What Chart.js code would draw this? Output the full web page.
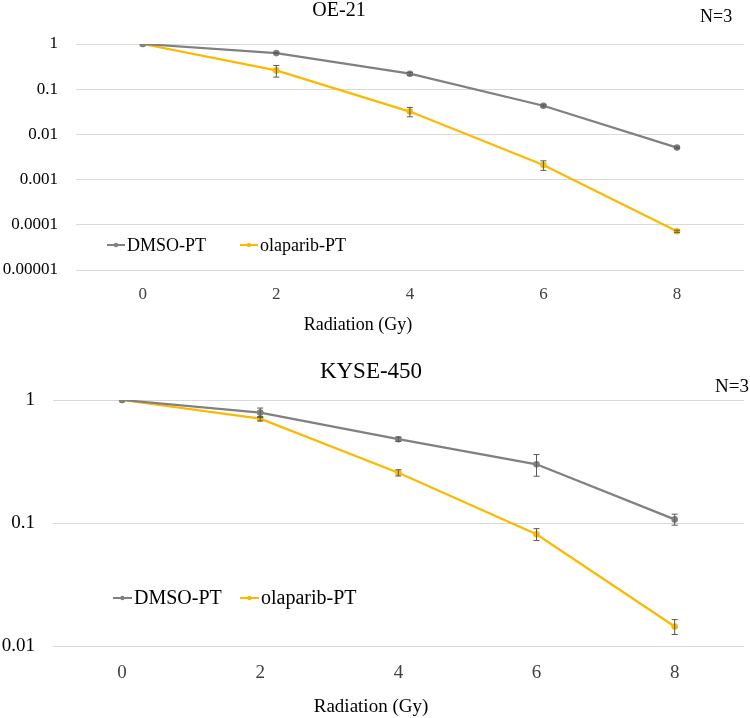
<!DOCTYPE html>
<html>
<head>
<meta charset="utf-8">
<script src="https://cdn.jsdelivr.net/npm/chart.js@4"></script>
<style>
body{margin:0;background:#fff;}
#top{position:absolute;left:0;top:0;}
#bot{position:absolute;left:0;top:360px;}
</style>
</head>
<body>
<canvas id="top" width="750" height="360"></canvas>
<canvas id="bot" width="750" height="358"></canvas>
<script>
var doses = ['0', '2', '4', '6', '8'];

// OE-21
var oeDmso = [1, 0.63, 0.22, 0.043, 0.0051];
var oeDmsoErr = [0, 0.02, 0.015, 0.002, 0.0002];
var oeOla = [1, 0.26, 0.032, 0.0021, 0.000072];
var oeOlaErr = [0, 0.075, 0.0075, 0.0005, 0.000004];
var oeTicks = [0.00001, 0.0001, 0.001, 0.01, 0.1, 1];

// KYSE-450
var kyDmso = [1, 0.79, 0.48, 0.30, 0.107];
var kyDmsoErr = [0, 0.07, 0.02, 0.06, 0.011];
var kyOla = [1, 0.705, 0.256, 0.081, 0.0144];
var kyOlaErr = [0, 0.03, 0.015, 0.009, 0.002];
var kyTicks = [0.01, 0.1, 1];

var gris = '#808080';
var oro = '#fbb900';
var serif = '"Liberation Serif", "Times New Roman", serif';

// barras de error (SD lineal) usando la escala y
var errorBars = {
    id: 'errorBars',
    afterDatasetsDraw: function(chart){
        var ctx = chart.ctx;
        var ys = chart.scales.y;
        ctx.save();
        ctx.strokeStyle = '#595959';
        ctx.lineWidth = 1;
        chart.data.datasets.forEach(function(ds, i){
            var meta = chart.getDatasetMeta(i);
            ds.errores.forEach(function(e, j){
                if (!e) return;
                var x = meta.data[j].x;
                var y1 = ys.getPixelForValue(ds.data[j] + e);
                var y2 = ys.getPixelForValue(ds.data[j] - e);
                ctx.beginPath();
                ctx.moveTo(x, y1); ctx.lineTo(x, y2);
                ctx.moveTo(x - 3, y1); ctx.lineTo(x + 3, y1);
                ctx.moveTo(x - 3, y2); ctx.lineTo(x + 3, y2);
                ctx.stroke();
            });
        });
        ctx.restore();
    }
};

// titulos, N=3, titulo del eje y leyenda
var textos = {
    id: 'textos',
    afterDraw: function(chart, args, o){
        var ctx = chart.ctx;
        ctx.save();
        ctx.fillStyle = '#000';
        ctx.textBaseline = 'middle';

        ctx.textAlign = 'center';
        ctx.font = o.tituloSize + 'px ' + serif;
        ctx.fillText(o.titulo, o.tituloX, o.tituloY);

        ctx.font = o.axisSize + 'px ' + serif;
        ctx.fillText('Radiation (Gy)', o.axisX, o.axisY);

        ctx.textAlign = 'left';
        ctx.font = o.nSize + 'px ' + serif;
        ctx.fillText('N=3', o.nX, o.nY);

        ctx.font = o.legSize + 'px ' + serif;
        chart.data.datasets.forEach(function(ds, i){
            var lx = o.legX[i];
            ctx.strokeStyle = ds.borderColor;
            ctx.lineWidth = 2;
            ctx.beginPath();
            ctx.moveTo(lx, o.legY); ctx.lineTo(lx + o.legW, o.legY);
            ctx.stroke();
            ctx.fillStyle = ds.borderColor;
            ctx.beginPath();
            ctx.arc(lx + o.legW / 2, o.legY, 2.2, 0, Math.PI * 2);
            ctx.fill();
            ctx.fillStyle = '#000';
            ctx.fillText(ds.label, lx + o.legW + 2, o.legY + 1);
        });
        ctx.restore();
    }
};

function grafica(id, dmso, dmsoErr, ola, olaErr, ticks, cfg){
    var ctx = document.getElementById(id).getContext('2d');
    return new Chart(ctx, {
        type: 'line',
        data: {
            labels: doses,
            datasets: [{
                label: 'DMSO-PT',
                data: dmso,
                errores: dmsoErr,
                borderColor: gris,
                backgroundColor: gris,
                borderWidth: 2.25,
                pointRadius: 2.2,
                fill: false
            },
            {
                label: 'olaparib-PT',
                data: ola,
                errores: olaErr,
                borderColor: oro,
                backgroundColor: oro,
                borderWidth: 2.25,
                pointRadius: 2.2,
                fill: false
            }]
        },
        options: {
            responsive: false,
            animation: false,
            layout: { padding: { top: cfg.top, right: cfg.right, left: 0, bottom: 0 } },
            plugins: {
                legend: { display: false },
                tooltip: { enabled: false },
                textos: cfg.textos
            },
            scales: {
                x: {
                    offset: true,
                    grid: { display: false },
                    border: { display: false },
                    ticks: { color: '#404040', padding: cfg.xPad, font: { family: serif, size: cfg.tickSize } },
                    afterFit: function(s){ s.height = cfg.xHeight; }
                },
                y: {
                    type: 'logarithmic',
                    min: ticks[0],
                    max: ticks[ticks.length - 1],
                    grid: { color: '#d9d9d9', lineWidth: 1, drawTicks: false },
                    border: { display: false },
                    ticks: {
                        color: '#000',
                        padding: 18,
                        font: { family: serif, size: cfg.tickSize },
                        callback: function(v){ return String(v); }
                    },
                    afterBuildTicks: function(s){
                        s.ticks = ticks.map(function(t){ return { value: t }; });
                    },
                    afterFit: function(s){ s.width = cfg.yWidth; }
                }
            }
        },
        plugins: [errorBars, textos]
    });
}

grafica('top', oeDmso, oeDmsoErr, oeOla, oeOlaErr, oeTicks, {
    top: 44, right: 1, yWidth: 76, xHeight: 90, xPad: 6, tickSize: 17,
    textos: {
        titulo: 'OE-21', tituloSize: 20, tituloX: 339, tituloY: 11,
        axisSize: 18, axisX: 358, axisY: 325,
        nSize: 18, nX: 700, nY: 17,
        legSize: 18, legX: [107, 240], legY: 245, legW: 18
    }
});

grafica('bot', kyDmso, kyDmsoErr, kyOla, kyOlaErr, kyTicks, {
    top: 40, right: 3, yWidth: 53, xHeight: 72, xPad: 8, tickSize: 19,
    textos: {
        titulo: 'KYSE-450', tituloSize: 23, tituloX: 371, tituloY: 12,
        axisSize: 19, axisX: 371, axisY: 347,
        nSize: 19, nX: 715, nY: 27,
        legSize: 20, legX: [113, 240], legY: 238, legW: 19
    }
});
</script>
</body>
</html>
